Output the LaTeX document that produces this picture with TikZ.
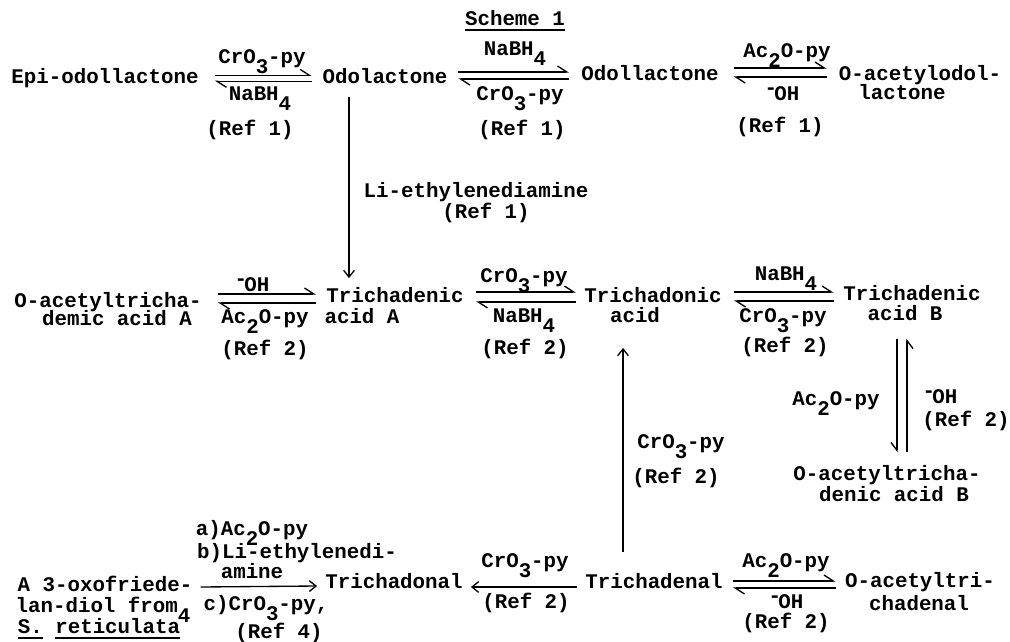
\documentclass[tikz,border=0pt]{standalone}
\usepackage{fontspec}
\setmonofont{Liberation Mono}
\usetikzlibrary{arrows.meta}
\newlength{\ulwd}
\newcommand{\ulined}[1]{\settowidth{\ulwd}{#1}\rlap{\rule[-4pt]{\ulwd}{1pt}}#1}
\newcommand{\low}[1]{\raisebox{-7.5pt}{#1}}
\newcommand{\minus}{\raisebox{4.5pt}{-}\kern-2pt}
\newcommand{\cro}{CrO\low{3}-py}
\newcommand{\aco}{Ac\low{2}O-py}
\newcommand{\nab}{NaBH\low{4}}
\begin{document}
\begin{tikzpicture}[
            x={(0.75pt,0pt)},
            y={(0pt,-0.75pt)},
            txt/.style={font=\fontsize{15.6}{18}\selectfont\ttfamily\bfseries, text=black, inner ysep=0pt, inner xsep=6pt, text height=8pt, text depth=0pt},
            fwd/.style={line width=1pt, -{Straight Barb[left, length=7pt, width=9pt]}},
            rxn/.style={line width=1pt, -{Straight Barb[length=5pt, width=8pt]}},
            vert/.style={line width=1pt, -{Straight Barb[right, length=6pt, width=9pt]}}
        ]
        \useasboundingbox (0,0) rectangle (1010,642);

        \node[txt] (title) at (515,20) {\ulined{Scheme 1}};

        \node[txt] (epi) at (105,78) {Epi-odollactone};
        \node[txt] (odo) at (385,78) {Odolactone};
        \node[txt] (odl) at (650,75) {Odollactone};
        \node[txt] (acl) at (920,75) {O-acetylodol-};
        \node[txt] (acl2) at (902,94) {lactone};
        \node[txt] (r1a) at (262,58) {\cro};
        \node[txt] (r1b) at (260,95) {\nab};
        \node[txt] (r1c) at (250,130) {(Ref 1)};
        \node[txt] (r2a) at (515,50) {\nab};
        \node[txt] (r2b) at (520,95) {\cro};
        \node[txt] (r2c) at (522,130) {(Ref 1)};
        \node[txt] (r3a) at (787,52) {\aco};
        \node[txt] (r3b) at (782,95) {\minus OH};
        \node[txt] (r3c) at (780,127) {(Ref 1)};

        \node[txt] (lie) at (476,192) {Li-ethylenediamine};
        \node[txt] (lir) at (486,213) {(Ref 1)};

        \node[txt] (ata) at (108,302) {O-acetyltricha-};
        \node[txt] (ata2) at (117,320) {demic acid A};
        \node[txt] (tda) at (395,297) {Trichadenic};
        \node[txt] (tda2) at (362,318) {acid A};
        \node[txt] (tdo) at (653,297) {Trichadonic};
        \node[txt] (tdo2) at (635,317) {acid};
        \node[txt] (tdb) at (912,295) {Trichadenic};
        \node[txt] (tdb2) at (905,315) {acid B};
        \node[txt] (m1a) at (252,286) {\minus OH};
        \node[txt] (m1b) at (265,318) {\aco};
        \node[txt] (m1c) at (265,350) {(Ref 2)};
        \node[txt] (m2a) at (524,277) {\cro};
        \node[txt] (m2b) at (524,317) {\nab};
        \node[txt] (m2c) at (525,349) {(Ref 2)};
        \node[txt] (m3a) at (786,275) {\nab};
        \node[txt] (m3b) at (783,317) {\cro};
        \node[txt] (m3c) at (785,347) {(Ref 2)};

        \node[txt] (v1) at (836,400) {\aco};
        \node[txt] (v2) at (940,398) {\minus OH};
        \node[txt] (v3) at (966,421) {(Ref 2)};
        \node[txt] (atb) at (887,475) {O-acetyltricha-};
        \node[txt] (atb2) at (894,496) {denic acid B};
        \node[txt] (u1) at (681,443) {\cro};
        \node[txt] (u2) at (676,478) {(Ref 2)};

        \node[txt] (oxo) at (105,586) {A 3-oxofriede-};
        \node[txt] (oxo2) at (103,607) {lan-diol from\low{4}};
        \node[txt] (oxo3) at (99,628) {\ulined{S.} \ulined{reticulata}};
        \node[txt] (b1) at (252,530) {a)\aco};
        \node[txt] (b2) at (297,553) {b)Li-ethylenedi-};
        \node[txt] (b3) at (252,573) {amine};
        \node[txt] (b4) at (266,605) {c)\cro ,};
        \node[txt] (b5) at (279,633) {(Ref 4)};
        \node[txt] (tna) at (394,583) {Trichadonal};
        \node[txt] (tne) at (654,583) {Trichadenal};
        \node[txt] (atn) at (920,582) {O-acetyltri-};
        \node[txt] (atn2) at (919,605) {chadenal};
        \node[txt] (b6) at (525,562) {\cro};
        \node[txt] (b7) at (526,603) {(Ref 2)};
        \node[txt] (b8) at (786,562) {\aco};
        \node[txt] (b9) at (786,603) {\minus OH};
        \node[txt] (b10) at (786,623) {(Ref 2)};

        \draw[fwd] ([xshift=6pt,yshift=2pt]epi.east) -- ([xshift=-2pt,yshift=2pt]odo.west);
        \draw[fwd] ([xshift=-2pt,yshift=-2.5pt]odo.west) -- ([xshift=6pt,yshift=-2.5pt]epi.east);
        \draw[fwd] ([xshift=2pt,yshift=4.5pt]odo.east) -- ([xshift=-3pt,yshift=2.25pt]odl.west);
        \draw[fwd] ([xshift=-3pt,yshift=-3pt]odl.west) -- ([xshift=2pt,yshift=-0.75pt]odo.east);
        \draw[fwd] ([xshift=5pt,yshift=5.25pt]odl.east) -- ([xshift=-3pt,yshift=5.25pt]acl.west);
        \draw[fwd] ([xshift=-3pt,yshift=-1.5pt]acl.west) -- ([xshift=5pt,yshift=-1.5pt]odl.east);

        \draw[rxn] ([xshift=-27pt,yshift=-10pt]odo.south) -- ([xshift=-34.5pt,yshift=10pt]tda.north);

        \draw[fwd] ([xshift=6pt,yshift=6pt]ata.east) -- ([xshift=-1.5pt,yshift=2.25pt]tda.west);
        \draw[fwd] ([xshift=-1.5pt,yshift=-4.5pt]tda.west) -- ([xshift=6pt,yshift=-0.75pt]ata.east);
        \draw[fwd] ([xshift=3pt,yshift=3.7pt]tda.east) -- ([xshift=0pt,yshift=3.7pt]tdo.west);
        \draw[fwd] ([xshift=0pt,yshift=-3.7pt]tdo.west) -- ([xshift=3pt,yshift=-3.7pt]tda.east);
        \draw[fwd] ([xshift=3pt,yshift=3.7pt]tdo.east) -- ([xshift=-1pt,yshift=2.2pt]tdb.west);
        \draw[fwd] ([xshift=-1pt,yshift=-4.5pt]tdb.west) -- ([xshift=3pt,yshift=-3pt]tdo.east);

        \draw[vert] ([xshift=-6pt,yshift=-13.5pt]tdb2.south) -- ([xshift=7.5pt,yshift=12.75pt]atb.north);
        \draw[vert] ([xshift=15pt,yshift=12.75pt]atb.north) -- ([xshift=1.5pt,yshift=-13.5pt]tdb2.south);
        \draw[rxn] ([xshift=-23.25pt,yshift=19pt]tne.north) -- ([xshift=-9pt,yshift=-19pt]tdo2.south);

        \draw[rxn] ([yshift=-0.75pt]oxo.east) -- ([yshift=-2.25pt]tna.west);
        \draw[rxn] ([yshift=-3pt]tne.west) -- ([yshift=-3pt]tna.east);
        \draw[fwd] ([xshift=1.5pt,yshift=1.5pt]tne.east) -- ([xshift=-1pt,yshift=0.75pt]atn.west);
        \draw[fwd] ([xshift=-1pt,yshift=-4.5pt]atn.west) -- ([xshift=1.5pt,yshift=-3.75pt]tne.east);
    \end{tikzpicture}
\end{document}
